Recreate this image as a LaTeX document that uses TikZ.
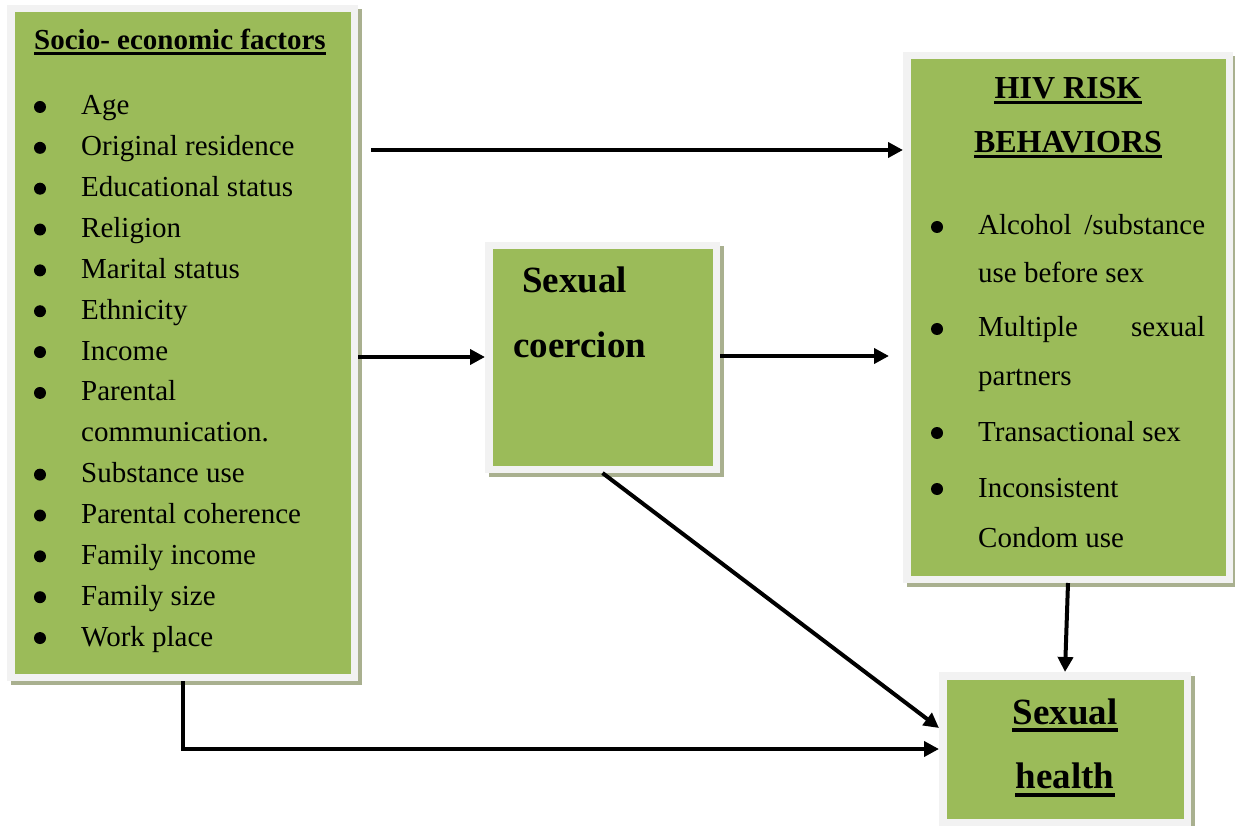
\documentclass[tikz,border=0pt]{standalone}
\usepackage{fontspec}
\setmainfont{Liberation Serif}
\usetikzlibrary{arrows.meta,shadows}
\definecolor{panelgreen}{HTML}{9BBB59}
\definecolor{panelframe}{HTML}{F2F2F2}
\definecolor{panelshade}{HTML}{A9B08F}
\newcommand{\itemsize}{\fontsize{29pt}{35pt}\selectfont}
\newcommand{\headsize}{\fontsize{32pt}{38pt}\selectfont\bfseries}
\newcommand{\bigsize}{\fontsize{37pt}{44pt}\selectfont\bfseries}

\begin{document}
\begin{tikzpicture}[x=1pt,y=-1pt,
	panel/.style={fill=panelframe, inner sep=0pt, outer sep=0pt,
		drop shadow={fill=panelshade, opacity=1, shadow xshift=4pt, shadow yshift=-4pt},
		path picture={\fill[panelgreen] ([shift={(7.5pt,-7.5pt)}]path picture bounding box.north west) rectangle ([shift={(-7.5pt,7.5pt)}]path picture bounding box.south east);}},
	txt/.style={inner sep=0pt, anchor=base west, font=\itemsize},
	dot/.style={circle, fill=black, inner sep=0pt, minimum size=12pt},
	head/.style={inner sep=0pt, anchor=base},
	arr/.style={line width=4pt, -{Triangle[length=15pt,width=15pt]}},
	ul/.style={line width=3pt}]
	\useasboundingbox (0,0) rectangle (1235,826);
	% panels
	\node[panel, minimum width=351pt, minimum height=676pt] (socio) at (182.5,343) {};
	\node[panel, minimum width=235pt, minimum height=231pt] (coercion) at (602.5,357.5) {};
	\node[panel, minimum width=330pt, minimum height=531pt] (hiv) at (1068,317.5) {};
	\node[panel, minimum width=252pt, minimum height=154pt] (health) at (1065,749) {};

	% socio-economic factors
	\node[txt, font=\itemsize\bfseries] (soctitle) at (34,50) {Socio- economic factors};
	\draw[ul] ([yshift=-4pt]soctitle.base west) -- ([yshift=-4pt]soctitle.base east);
	\foreach \t [count=\i from 0] in {Age, Original residence, Educational status, Religion,
		Marital status, Ethnicity, Income, Parental, communication., Substance use,
		Parental coherence, Family income, Family size, Work place}
		\node[txt] (soc\i) at (81,115+40.85*\i) {\t};
	\foreach \i in {0,...,7,9,10,...,13}
		\node[dot] (socdot\i) at (40,107+40.85*\i) {};

	% sexual coercion
	\node[txt, font=\bigsize] (coer1) at (522,293) {Sexual};
	\node[txt, font=\bigsize] (coer2) at (513,358) {coercion};

	% hiv risk behaviors
	\node[head, font=\headsize] (hivhead1) at (1068,99) {HIV RISK};
	\node[head, font=\headsize] (hivhead2) at (1068,153) {BEHAVIORS};
	\draw[ul] ([yshift=-4pt]hivhead1.base west) -- ([yshift=-4pt]hivhead1.base east);
	\draw[ul] ([yshift=-4pt]hivhead2.base west) -- ([yshift=-4pt]hivhead2.base east);
	\node[txt] (hiv1) at (978,235) {\makebox[227pt][s]{Alcohol /substance}};
	\node[txt] (hiv2) at (978,283) {use before sex};
	\node[txt] (hiv3) at (978,337) {\makebox[227pt]{Multiple\hfill sexual}};
	\node[txt] (hiv4) at (978,385) {partners};
	\node[txt] (hiv5) at (978,441) {Transactional sex};
	\node[txt] (hiv6) at (978,497) {Inconsistent};
	\node[txt] (hiv7) at (978,547) {Condom use};
	\foreach \y [count=\i] in {235,337,441,497}
		\node[dot] (hivdot\i) at (937,\y-8) {};

	% sexual health
	\node[head, font=\bigsize] (heal1) at (1065,724) {Sexual};
	\node[head, font=\bigsize] (heal2) at (1065,788) {health};
	\draw[line width=4pt] ([yshift=-6pt]heal1.base west) -- ([yshift=-6pt]heal1.base east);
	\draw[line width=4pt] ([yshift=-7pt]heal2.base west) -- ([yshift=-7pt]heal2.base east);

	% arrows
	\draw[arr, shorten <=13pt] (socio.east |- 0,150) -- (hiv.west |- 0,150);
	\draw[arr] (socio.east |- 0,357) -- (coercion.west |- 0,357);
	\draw[arr, shorten >=14pt] (coercion.east |- 0,356) -- (hiv.west |- 0,356);
	\draw[arr] (coercion.south) -- ([yshift=21pt]health.west);
	\draw[arr] (hiv.south) -- (health.north);
	\draw[arr] (socio.south) -- (socio.south |- health.west) -- (health.west);
\end{tikzpicture}
\end{document}
